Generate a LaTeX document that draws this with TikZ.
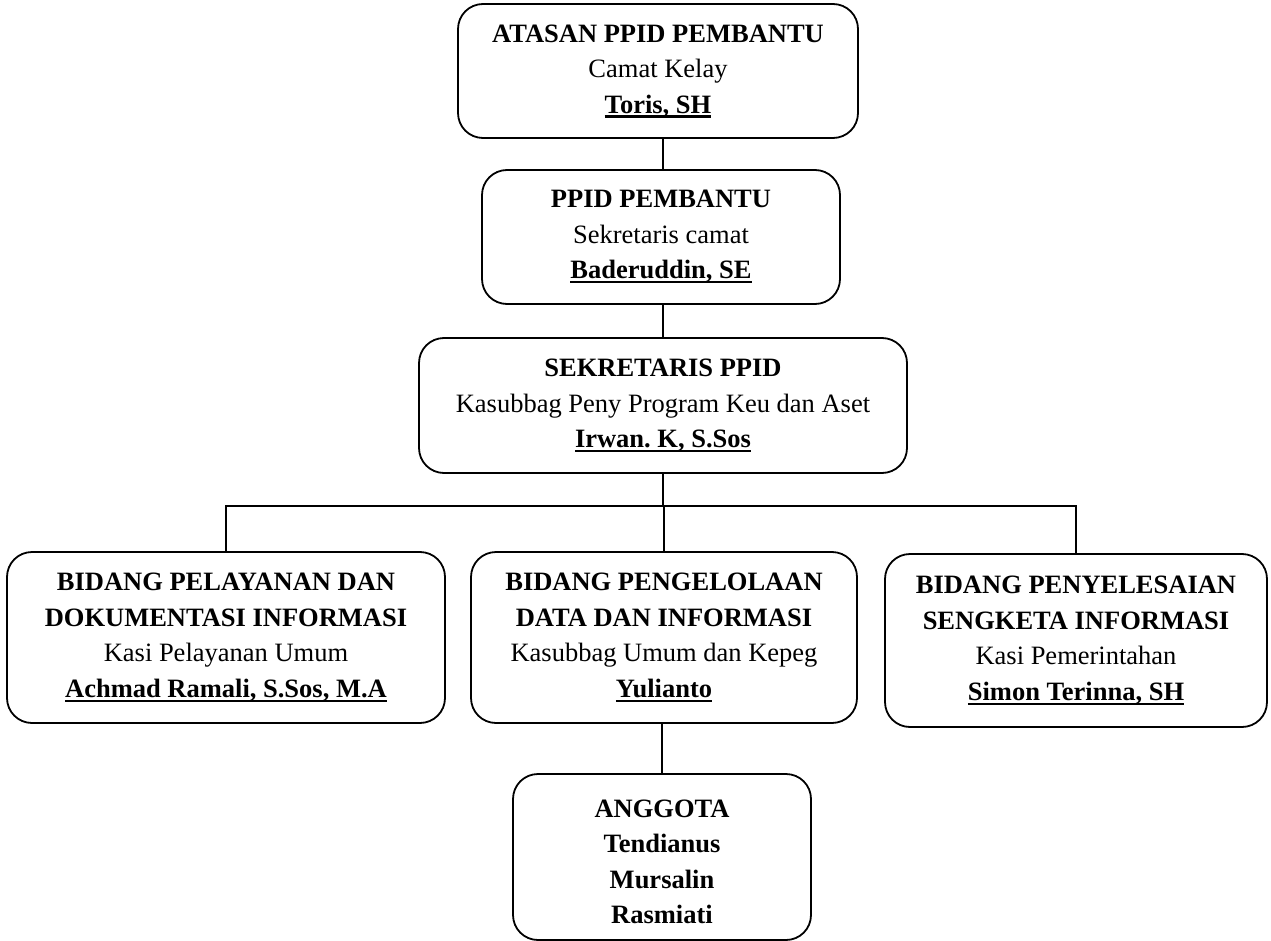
\documentclass[tikz,border=0pt]{standalone}
\usepackage{fontspec}
\setmainfont{Liberation Serif}
\frenchspacing
\newcommand\nameul[1]{\setbox0\hbox{#1}\rlap{\rule[-4.5pt]{\wd0}{2.1pt}}\box0}
\tikzset{
  orgbox/.style={draw=black, line width=1.8pt, rounded corners=25pt, inner sep=0pt,
    align=center, font=\fontsize{26.5}{35.5}\selectfont},
  link/.style={draw=black, line width=1.8pt}
}
\begin{document}
\begin{tikzpicture}[x=1pt,y=-1pt]
\useasboundingbox (0,0) rectangle (1271,941);
\clip (0,0) rectangle (1271,941);
\node[orgbox, minimum width=400pt, minimum height=134pt] (b1) at (658,71)
  {\textbf{ATASAN PPID PEMBANTU}\\Camat Kelay\\\textbf{\nameul{Toris, SH}}};
\node[orgbox, minimum width=358pt, minimum height=134pt] (b2) at (661,237)
  {\textbf{PPID PEMBANTU}\\Sekretaris camat\\\textbf{\nameul{Baderuddin, SE}}};
\node[orgbox, minimum width=488pt, minimum height=135pt] (b3) at (663,405.5)
  {\textbf{SEKRETARIS PPID}\\Kasubbag Peny Program Keu dan Aset\\\textbf{\nameul{Irwan. K, S.Sos}}};
\node[orgbox, minimum width=438pt, minimum height=171pt] (b4) at (226,637.5)
  {\textbf{BIDANG PELAYANAN DAN}\\\textbf{DOKUMENTASI INFORMASI}\\Kasi Pelayanan Umum\\\textbf{\nameul{Achmad Ramali, S.Sos, M.A}}};
\node[orgbox, minimum width=386pt, minimum height=171pt] (b5) at (664,637.5)
  {\textbf{BIDANG PENGELOLAAN}\\\textbf{DATA DAN INFORMASI}\\Kasubbag Umum dan Kepeg\\\textbf{\nameul{Yulianto}}};
\node[orgbox, minimum width=382pt, minimum height=173pt] (b6) at (1076,640.5)
  {\textbf{BIDANG PENYELESAIAN}\\\textbf{SENGKETA INFORMASI}\\Kasi Pemerintahan\\\textbf{\nameul{Simon Terinna, SH}}};
\node[orgbox, minimum width=298pt, minimum height=166pt] (b7) at (662,857)
  {\rule{0pt}{27pt}\textbf{ANGGOTA}\\\textbf{Tendianus}\\\textbf{Mursalin}\\\textbf{Rasmiati}};
\coordinate (spine) at (663,0);
\coordinate (bus) at (0,506);
\draw[link] (b1.south -| spine) -- (b2.north -| spine);
\draw[link] (b2.south -| spine) -- (b3.north -| spine);
\draw[link] (b3.south -| spine) -- (bus -| spine);
\draw[link] (b4.north) |- (b6.north |- bus) -- (b6.north);
\draw[link] (b5.north) -- (b5.north |- bus);
\draw[link] (b5.south -| b7.north) -- (b7.north);
\end{tikzpicture}
\end{document}
